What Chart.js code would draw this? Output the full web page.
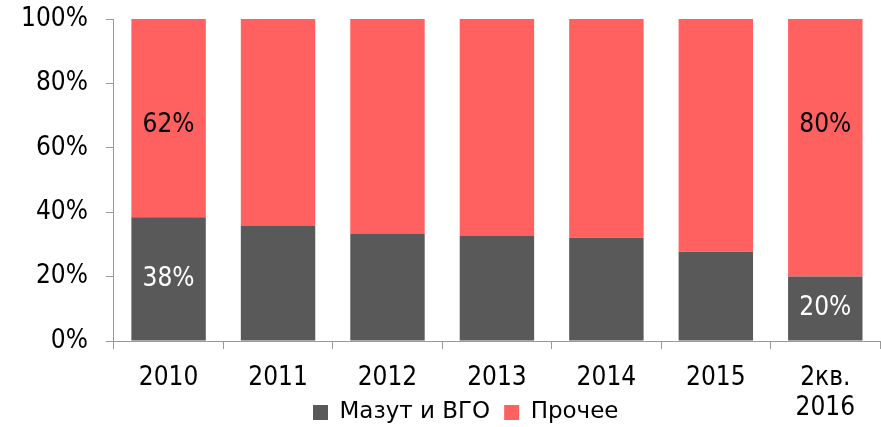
<!DOCTYPE html>
<html>
<head>
<meta charset="utf-8">
<script src="https://cdn.jsdelivr.net/npm/chart.js@4.4.1/dist/chart.umd.min.js"></script>
<style>
  html, body { margin: 0; padding: 0; background: #ffffff; }
  #wrap { width: 881px; height: 427px; }
</style>
</head>
<body>
<div id="wrap"><canvas id="c" width="881" height="427"></canvas></div>
<script>
// ---- data ----
const categories = ['2010', '2011', '2012', '2013', '2014', '2015', ['2кв.', '2016']];
const seriesNames = ['Мазут и ВГО', 'Прочее'];
const mazutVGO = [38.4, 35.7, 33.2, 32.8, 32.1, 27.7, 20.0];
const prochee  = [61.6, 64.3, 66.8, 67.2, 67.9, 72.3, 80.0];
const yTicks = [0, 20, 40, 60, 80, 100];
// indices of bars that carry value labels
const labelledBars = [0, 6];

const FONT = "'DejaVu Sans Condensed', 'DejaVu Sans', sans-serif";
const LEGEND_FONT = "'DejaVu Sans', sans-serif";
const LEGEND_PAD = 14;
const LEGEND_SIZE = 23;

const valueLabels = {
  id: 'valueLabels',
  afterDatasetsDraw(chart) {
    const ctx = chart.ctx;
    const yScale = chart.scales.y;
    ctx.save();
    ctx.font = '26px ' + FONT;
    ctx.textAlign = 'center';
    ctx.textBaseline = 'middle';
    chart.data.datasets.forEach((ds, di) => {
      const meta = chart.getDatasetMeta(di);
      labelledBars.forEach(i => {
        const bar = meta.data[i];
        const v = ds.data[i];
        let y;
        if (di === 0) {
          y = (bar.y + bar.base) / 2;
          ctx.fillStyle = '#ffffff';
        } else {
          y = yScale.getPixelForValue(67);
          ctx.fillStyle = '#000000';
        }
        ctx.fillText(Math.round(v) + '%', bar.x, y);
      });
    });
    ctx.restore();
  }
};

// place the legend where the reference has it (overlapping the two-line last tick label)
const legendPlace = {
  id: 'legendPlace',
  afterLayout(chart) {
    const lg = chart.legend;
    if (lg && lg.lineWidths) {
      const start = (lg.left + LEGEND_PAD + lg.right - lg.lineWidths[0]) / 2;
      const shift = 313 - start;
      lg.left += shift; lg.right += shift;
      const h = lg.bottom - lg.top;
      lg.top = 412.5 - LEGEND_SIZE / 2 - LEGEND_PAD;
      lg.bottom = lg.top + h;
    }
    // let the two-line tick label extend below the (shortened) x scale box
    chart.scales.x.bottom = chart.height;
  }
};

new Chart(document.getElementById('c'), {
  type: 'bar',
  data: {
    labels: categories,
    datasets: [
      { label: seriesNames[0], data: mazutVGO, backgroundColor: '#595959', borderWidth: 0 },
      { label: seriesNames[1], data: prochee, backgroundColor: '#ff6161', borderWidth: 0 }
    ]
  },
  options: {
    responsive: false,
    animation: false,
    devicePixelRatio: 1,
    layout: { padding: { top: 19, left: 3, right: 1, bottom: 0 } },
    datasets: { bar: { categoryPercentage: 1.0, barPercentage: 0.68 } },
    plugins: {
      legend: {
        position: 'bottom',
        labels: {
          font: { family: LEGEND_FONT, size: LEGEND_SIZE },
          color: '#000000',
          boxWidth: 15,
          boxHeight: 15,
          padding: LEGEND_PAD
        }
      },
      tooltip: { enabled: false }
    },
    scales: {
      x: {
        stacked: true,
        grid: { display: true, drawOnChartArea: false, drawTicks: true, tickLength: 8, color: '#999999', offset: true },
        border: { display: true, color: '#999999', width: 1 },
        ticks: {
          font: { family: FONT, size: 26, lineHeight: 1.15 },
          color: '#000000',
          padding: 14,
          maxRotation: 0,
          minRotation: 0,
          autoSkip: false
        },
        afterFit(scale) { scale.height = 39; }
      },
      y: {
        stacked: true,
        min: 0,
        max: 100,
        afterBuildTicks(scale) { scale.ticks = yTicks.map(v => ({ value: v })); },
        afterFit(scale) { scale.paddingTop = 0; scale.paddingBottom = 0; },
        grid: { display: true, drawOnChartArea: false, drawTicks: true, tickLength: 8, color: '#999999' },
        border: { display: true, color: '#999999', width: 1 },
        ticks: {
          font: { family: FONT, size: 26 },
          color: '#000000',
          padding: 18,
          callback: v => v + '%'
        }
      }
    }
  },
  plugins: [valueLabels, legendPlace]
});
</script>
</body>
</html>
